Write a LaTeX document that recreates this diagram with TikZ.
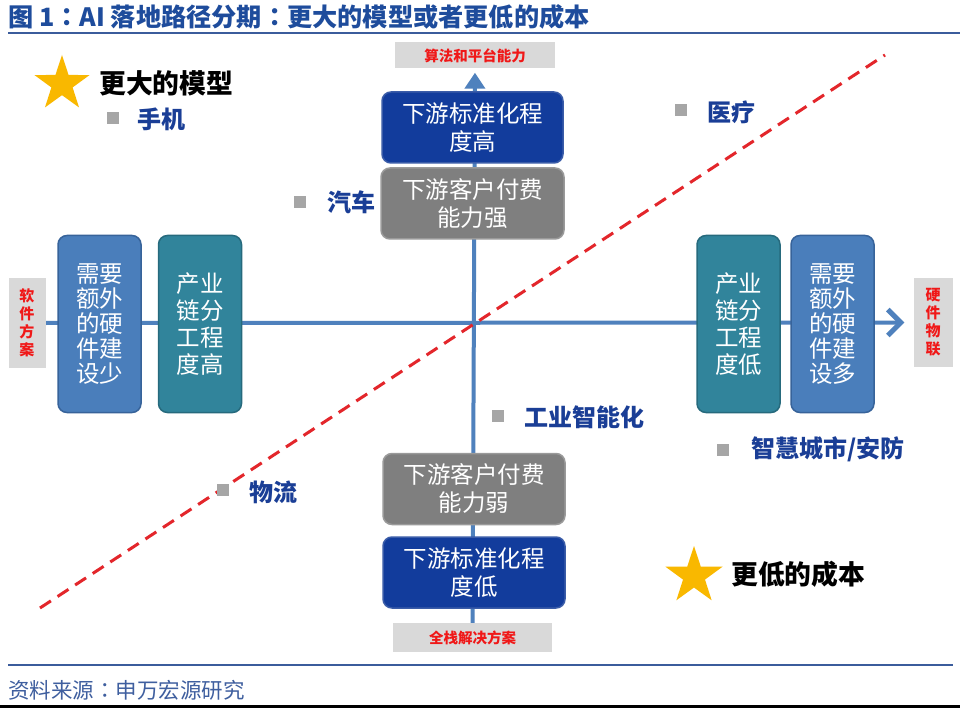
\documentclass[tikz,border=0pt]{standalone}
\usepackage{fontspec}
\setmainfont{Noto Sans CJK SC}
\newfontfamily\tcfont{Noto Sans CJK TC}
\usetikzlibrary{shapes.geometric,arrows.meta,backgrounds}
\definecolor{titleblue}{HTML}{1E4C9C}
\definecolor{rulecol}{HTML}{3B5C9C}
\definecolor{axiscol}{HTML}{4F81BD}
\definecolor{darkbox}{HTML}{123C9C}
\definecolor{darkboxd}{HTML}{3A5CA8}
\definecolor{graybox}{HTML}{7F7F7F}
\definecolor{grayboxd}{HTML}{9A9A9A}
\definecolor{steelbox}{HTML}{4A7EBB}
\definecolor{steelboxd}{HTML}{37639A}
\definecolor{tealbox}{HTML}{31849B}
\definecolor{tealboxd}{HTML}{266A7D}
\definecolor{lblgray}{HTML}{D9D9D9}
\definecolor{lblred}{HTML}{F01818}
\definecolor{dashred}{HTML}{E3262B}
\definecolor{sqgray}{HTML}{A6A6A6}
\definecolor{itemblue}{HTML}{1A3E96}
\definecolor{starcol}{HTML}{F9B800}
\definecolor{srccol}{HTML}{3F5F9F}
\begin{document}
\begin{tikzpicture}[x=1pt,y=-1pt,
  bigbox/.style={rounded corners=9pt, line width=1.5pt, text=white, align=center,
     inner sep=0pt, font=\fontsize{23.5}{28}\selectfont},
  hbox/.style={bigbox, minimum width=181pt, minimum height=71pt},
  vbox/.style={bigbox, minimum width=83pt, minimum height=177pt},
  darkstyle/.style={fill=darkbox, draw=darkboxd},
  graystyle/.style={fill=graybox, draw=grayboxd},
  steelstyle/.style={fill=steelbox, draw=steelboxd},
  tealstyle/.style={fill=tealbox, draw=tealboxd},
  lbl/.style={fill=lblgray, text=lblred, inner sep=0pt, align=center,
     font=\fontsize{14.5}{17.5}\selectfont\bfseries},
  sq/.style={fill=sqgray, minimum size=12pt, inner sep=0pt},
  item/.style={anchor=west, text=itemblue, inner sep=0pt, font=\fontsize{24}{26}\selectfont\bfseries},
  starnode/.style={star, star points=5, star point ratio=2.6, fill=starcol, inner sep=0pt},
  axis/.style={axiscol, line width=4pt},
  bigtitle/.style={anchor=west, inner sep=0pt, font=\fontsize{26.8}{28}\selectfont\bfseries}
]
\useasboundingbox (0,0) rectangle (960,708);

% title
\node[anchor=west, inner sep=0pt, text=titleblue, font=\fontsize{25.2}{28}\selectfont\bfseries] (title) at (8,17) {图 1{\tcfont ：}AI 落地路径分期{\tcfont ：}更大的模型或者更低的成本};
\coordinate (tr1) at (8,33);
\coordinate (tr2) at (960,33);
\draw[rulecol, line width=2.5pt] (tr1) -- (tr2);

% axis end labels
\node[lbl, minimum width=160pt, minimum height=26pt] (ltop) at (475,55.5) {算法和平台能力};
\node[lbl, minimum width=159pt, minimum height=29pt] (lbot) at (472.5,637.5) {全栈解决方案};
\node[lbl, minimum width=37pt, minimum height=90pt, font=\fontsize{15}{18}\selectfont\bfseries] (lleft) at (27,323) {软\\件\\方\\案};
\node[lbl, minimum width=39pt, minimum height=89pt, font=\fontsize{15}{18}\selectfont\bfseries] (lright) at (933,322.5) {硬\\件\\物\\联};

% vertical boxes
\node[hbox, darkstyle] (hi) at (472.5,127.5) {下游标准化程\\度高};
\node[hbox, graystyle, minimum width=183pt] (strong) at (472.5,203.5) {下游客户付费\\能力强};
\node[hbox, graystyle, minimum width=182pt] (weak) at (474,489) {下游客户付费\\能力弱};
\node[hbox, darkstyle, minimum width=182pt] (lo) at (474,572.5) {下游标准化程\\度低};

% horizontal boxes
\node[vbox, steelstyle, font=\fontsize{23.5}{24.8}\selectfont] (lsteel) at (99.5,324) {需要\\额外\\的硬\\件建\\设少};
\node[vbox, tealstyle, font=\fontsize{23.5}{27}\selectfont] (lteal) at (200,324) {产业\\链分\\工程\\度高};
\node[vbox, tealstyle, font=\fontsize{23.5}{27}\selectfont] (rteal) at (738.5,324) {产业\\链分\\工程\\度低};
\node[vbox, steelstyle, font=\fontsize{23.5}{24.8}\selectfont] (rsteel) at (832.5,324) {需要\\额外\\的硬\\件建\\设多};

% background: white and axes
\begin{scope}[on background layer]
  \fill[white] (0,0) rectangle (960,708);
  \draw[axis, -{Triangle[width=20pt,length=16pt]}, shorten >=4pt] (lbot.north) -- (ltop.south);
  \draw[axis, -{Straight Barb[width=26pt,length=13pt,line width=5pt]}, shorten >=9pt] (lleft.east) -- (lright.west);
\end{scope}

% dashed diagonal
\coordinate (d1) at (40,608);
\coordinate (d2) at (885,55);
\draw[dashred, line width=3pt, dash pattern=on 13pt off 8pt] (d1) -- (d2);

% stars
\node[starnode, minimum size=58pt] (s1) at (62,84) {};
\node[bigtitle] (t1) at (99,83) {更大的模型};
\node[starnode, minimum size=60pt] (s2) at (694,576) {};
\node[bigtitle] (t2) at (731,574) {更低的成本};

% items
\node[sq] (q1) at (113,118) {};
\node[item] (i1) at (137,119) {手机};
\node[sq] (q2) at (300,202) {};
\node[item] (i2) at (327,202) {汽车};
\node[sq] (q3) at (681,110) {};
\node[item] (i3) at (707,112) {医疗};
\node[sq] (q4) at (498,416) {};
\node[item] (i4) at (524,417) {工业智能化};
\node[sq] (q5) at (723,450) {};
\node[item] (i5) at (751,449) {智慧城市/安防};
\node[sq] (q6) at (223,490) {};
\node[item] (i6) at (249,492) {物流};

% bottom rule and source
\coordinate (br1) at (8,665);
\coordinate (br2) at (953,665);
\draw[rulecol, line width=2.5pt] (br1) -- (br2);
\node[anchor=west, inner sep=0pt, text=srccol, font=\fontsize{21.5}{24}\selectfont] (src) at (8,690) {资料来源{\tcfont ：}申万宏源研究};
\fill[black] (0,705) rectangle (960,708);
\end{tikzpicture}
\end{document}
